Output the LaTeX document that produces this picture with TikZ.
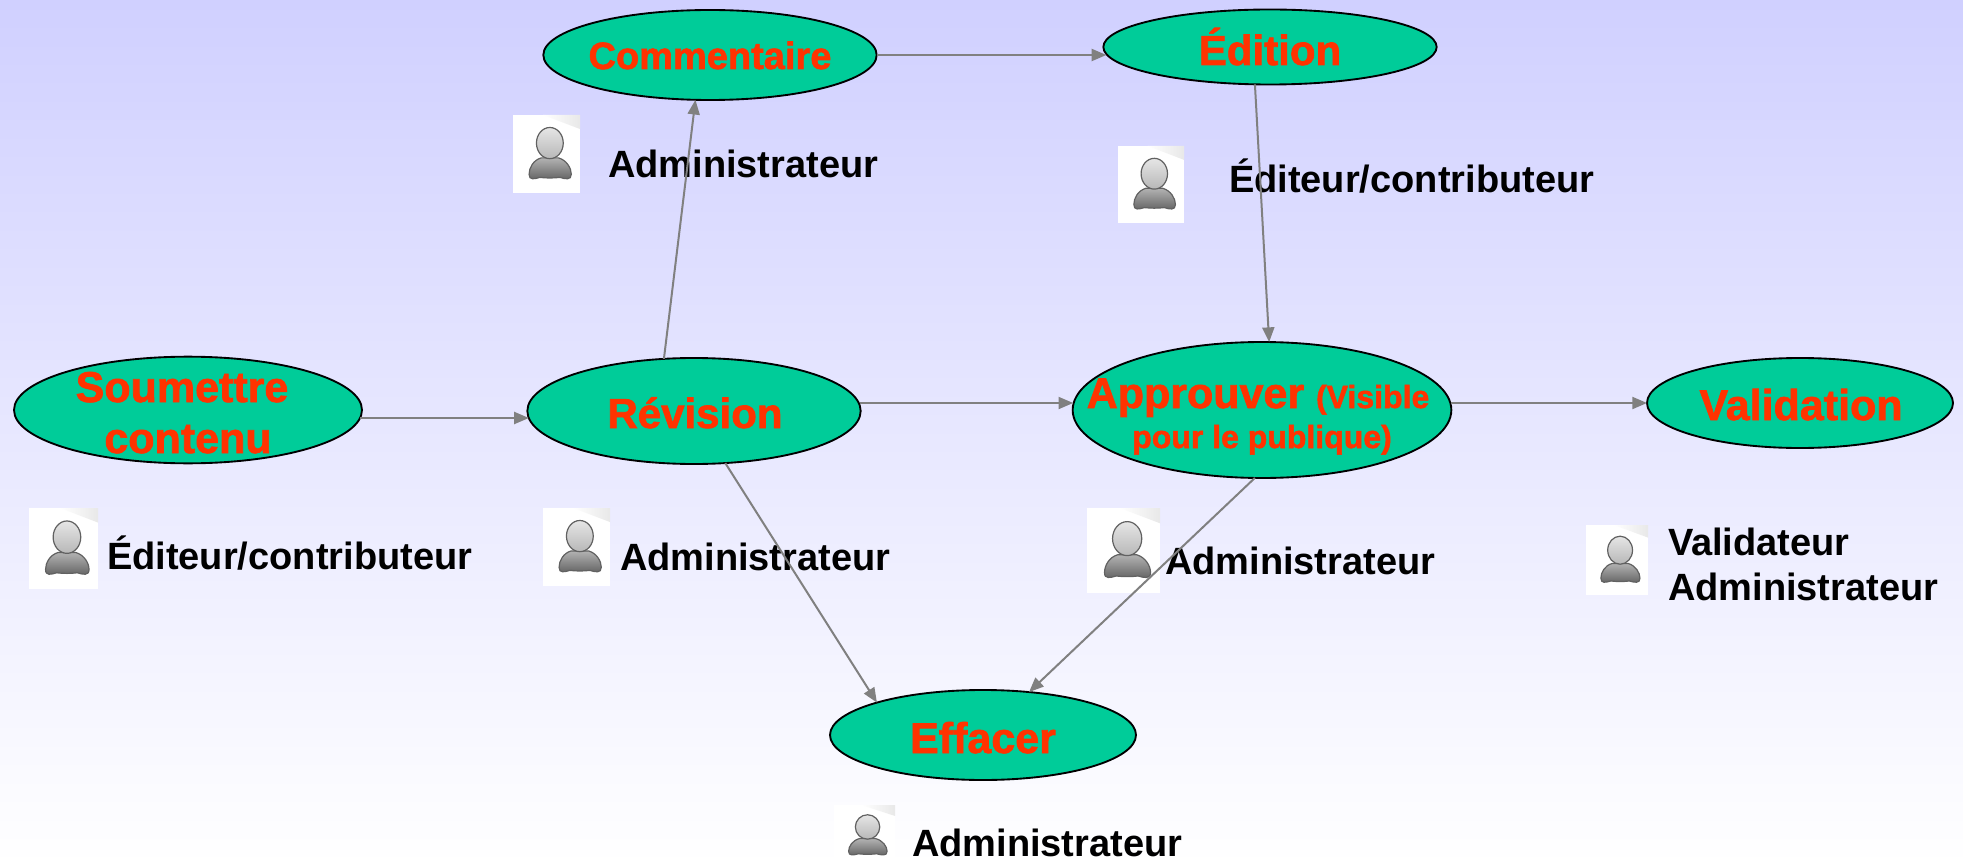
\documentclass[tikz,border=0pt]{standalone}
\usepackage{fontspec}
\setmainfont{Liberation Sans}
\newfontfamily\ovalfont[BoldFeatures={FakeBold=1.6}]{Liberation Sans}
\usetikzlibrary{shapes.geometric,arrows.meta}
\definecolor{bgtop}{HTML}{D0D0FF}
\definecolor{ovalfill}{HTML}{00CC99}
\definecolor{ovaltext}{HTML}{FF3300}
\definecolor{conn}{HTML}{808080}
% text placed inside a node without widening it: dx, baseline rise (in px), text
\newcommand\ovl[3]{\makebox[0pt]{\hspace*{\dimexpr 1.5pt*#1\relax}\raisebox{\dimexpr .75pt*#2\relax}[0pt][0pt]{#3}}}
\newcommand\fpx[1]{\fontsize{\dimexpr .75pt*#1\relax}{\dimexpr .9pt*#1\relax}\selectfont}
\newcommand\usericon[4]{%
\begin{scope}[shift={(#1,#2)},x=#3*.75pt,y=-#4*.75pt]
\fill[white] (0,0) rectangle (1,1);
\shade[left color=white,right color=black!9] (.45,0) -- (1,0) -- (1,.18) -- cycle;
\shade[top color=black!30,bottom color=black!62,draw=black!62,line width=.9pt]
 (.42,.55) .. controls (.30,.58) and (.24,.68) .. (.24,.76) .. controls (.24,.84) and (.32,.82) .. (.40,.80) .. controls (.50,.81) and (.60,.81) .. (.70,.80) .. controls (.78,.82) and (.87,.84) .. (.87,.76) .. controls (.87,.68) and (.80,.58) .. (.68,.55) -- cycle;
\shade[top color=black!10,bottom color=black!28,draw=black!62,line width=.9pt] (.55,.36) ellipse (.2 and .2);
\end{scope}}
\tikzset{
 x=.75pt,y=-.75pt,
 oval/.style={ellipse,draw=black,line width=1.4pt,fill=ovalfill,inner sep=0pt,outer sep=0pt,text=ovaltext,font=\ovalfont\bfseries},
 who/.style={anchor=base west,inner sep=0pt,outer sep=0pt,text=black,font=\bfseries\fpx{38}},
 flow/.style={draw=conn,line width=1.5pt,-{Triangle[length=11pt,width=9pt]},shorten >=0pt},
}
\begin{document}
\begin{tikzpicture}
\shade[top color=bgtop,bottom color=white] (0,0) rectangle (1963,866);
\useasboundingbox (0,0) rectangle (1963,866);
\usericon{513}{115}{67}{78}
\usericon{1118}{146}{66}{77}
\usericon{29}{508}{69}{81}
\usericon{543}{508}{67}{78}
\usericon{1087}{508}{73}{85}
\usericon{1586}{525}{62}{70}
\usericon{834}{805}{61}{61}

\node[oval,minimum width=261pt,minimum height=80pt] (sou) at (188,410) {\fpx{43}\ovl{-6}{8}{Soumettre}\ovl{0}{-43}{contenu}};
\node[oval,minimum width=250pt,minimum height=79.5pt] (rev) at (694,411) {\fpx{42}\ovl{1}{-17}{Révision}};
\node[oval,minimum width=250pt,minimum height=67.5pt] (com) at (710,55) {\fpx{38}\ovl{0}{-14}{Commentaire}};
\node[oval,minimum width=250pt,minimum height=56.25pt] (edi) at (1270,47) {\fpx{42.5}\ovl{0}{-18}{Édition}};
\node[oval,minimum width=284pt,minimum height=102pt] (app) at (1262,410) {\ovl{-4}{2}{\fpx{43}Approuver \fpx{32.5}(Visible}\fpx{32.4}\ovl{0}{-38}{pour le publique)}};
\node[oval,minimum width=229.5pt,minimum height=67.5pt] (val) at (1800,403) {\fpx{43}\ovl{1}{-17}{Validation}};
\node[oval,minimum width=229.5pt,minimum height=67.5pt] (eff) at (983,735) {\fpx{43}\ovl{0}{-18}{Effacer}};

\node[who] (l1) at (608,178) {Administrateur};
\node[who] (l2) at (1229,193) {\fpx{38.4}Éditeur/contributeur};
\node[who] (l3) at (107,569) {\fpx{38.4}Éditeur/contributeur};
\node[who] (l4) at (620,570) {Administrateur};
\node[who] (l5) at (1165,574) {Administrateur};
\node[who] (l6) at (1668,555) {Validateur};
\node[who] (l7) at (1668,600) {Administrateur};
\node[who] (l8) at (912,856) {Administrateur};

\draw[flow] ([shift={(-2,8)}]sou.east) -- ([shift={(1.5,7)}]rev.west);
\draw[flow] (rev.120) -- (com.-108.4);
\draw[flow] (com.east) -- ([shift={(3,8)}]edi.west);
\draw[flow] (edi.-112.8) -- (app.84.1);
\draw[flow] ([shift={(-0.3,-8)}]rev.east) -- ([shift={(0.5,-7)}]app.west);
\draw[flow] ([shift={(-0.3,-7)}]app.east) -- (val.west);
\draw[flow] (rev.-59.2) -- (eff.163.4);
\draw[flow] (app.-96.7) -- (eff.43.7);
\end{tikzpicture}
\end{document}
